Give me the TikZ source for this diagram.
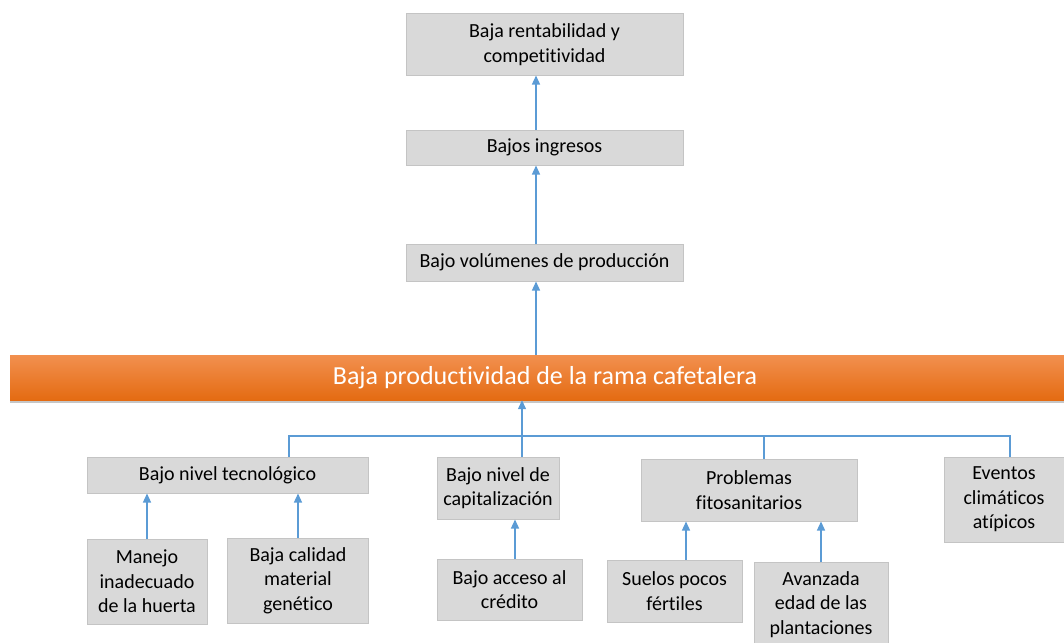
\documentclass[tikz,border=0pt]{standalone}
\usepackage{fontspec}
\setmainfont{Carlito}[Ligatures=NoCommon]
\usetikzlibrary{arrows.meta,shadows}
\definecolor{boxgray}{HTML}{D9D9D9}
\definecolor{boxline}{HTML}{C4C4C4}
\definecolor{linkblue}{HTML}{5B9BD5}
\definecolor{orangetop}{HTML}{F2904F}
\definecolor{orangebot}{HTML}{E46B12}

\tikzset{
  cause/.style={draw=boxline, line width=1pt, fill=boxgray, align=center,
    inner sep=0pt, font=\fontsize{20}{24.5}\selectfont},
  link/.style={draw=linkblue, line width=1.3pt, -{Triangle[length=9pt, width=8pt]}},
  bus/.style={draw=linkblue, line width=1.3pt}
}

\begin{document}
\begin{tikzpicture}[x=1pt, y=-1pt]
  \useasboundingbox (0, 0) rectangle (1064, 642);
  \node[cause, minimum width=277, minimum height=61] (renta) at (544.5, 44.5)
    {Baja rentabilidad y\\competitividad};
  \node[cause, minimum width=277, minimum height=35] (ingresos) at (544.5, 147.5)
    {Bajos ingresos};
  \node[cause, minimum width=277, minimum height=37] (volumen) at (544.5, 262.5)
    {Bajo volúmenes de producción};
  \node[minimum width=1070, minimum height=45, inner sep=0pt,
    top color=orangetop, bottom color=orangebot, text=white,
    drop shadow={shadow xshift=0pt, shadow yshift=-3pt, opacity=.45},
    font=\fontsize{26}{30}\selectfont] (central) at (545, 377.5)
    {Baja productividad de la rama cafetalera};
  \node[cause, minimum width=281, minimum height=36] (tecno) at (227.5, 475)
    {Bajo nivel tecnológico};
  \node[cause, minimum width=122, minimum height=62] (capital) at (498, 488)
    {Bajo nivel de\\capitalización};
  \node[cause, minimum width=216, minimum height=62] (fito) at (749, 490)
    {Problemas\\fitosanitarios};
  \node[cause, minimum width=120, minimum height=85] (eventos) at (1004, 499.5)
    {Eventos\\climáticos\\atípicos};
  \node[cause, minimum width=120, minimum height=85] (manejo) at (147, 581.5)
    {Manejo\\inadecuado\\de la huerta};
  \node[cause, minimum width=141, minimum height=85] (calidad) at (298, 580.5)
    {Baja calidad\\material\\genético};
  \node[cause, minimum width=145, minimum height=61] (credito) at (509.5, 589.5)
    {Bajo acceso al\\crédito};
  \node[cause, minimum width=135, minimum height=62] (suelos) at (674.5, 591)
    {Suelos pocos\\fértiles};
  \node[cause, minimum width=134, minimum height=85] (avanzada) at (821, 604.5)
    {Avanzada\\edad de las\\plantaciones};

  \coordinate (t) at (536, 0);
  \draw[link] (t |- volumen.north) -- (t |- ingresos.south);
  \draw[link] (t |- ingresos.north) -- (t |- renta.south);
  \draw[link] (t |- central.north) -- (t |- volumen.south);

  \coordinate (b1) at (289, 436);
  \coordinate (b2) at (522, 436);
  \coordinate (b3) at (764, 436);
  \coordinate (b4) at (1010, 436);
  \draw[bus] (b1 |- tecno.north) -- (b1) -- (b4) -- (b4 |- eventos.north);
  \draw[bus] (b2) -- (b2 |- capital.north);
  \draw[bus] (b3) -- (b3 |- fito.north);
  \draw[link] (b2) -- (b2 |- central.south);

  \draw[link] (manejo) -- (manejo |- tecno.south);
  \draw[link] (calidad) -- (calidad |- tecno.south);
  \draw[link] ([xshift=5.5pt]credito.north) -- ([xshift=5.5pt]credito.north |- capital.south);
  \draw[link] ([xshift=11.5pt]suelos.north) -- ([xshift=11.5pt]suelos.north |- fito.south);
  \draw[link] (avanzada) -- (avanzada |- fito.south);
\end{tikzpicture}
\end{document}
